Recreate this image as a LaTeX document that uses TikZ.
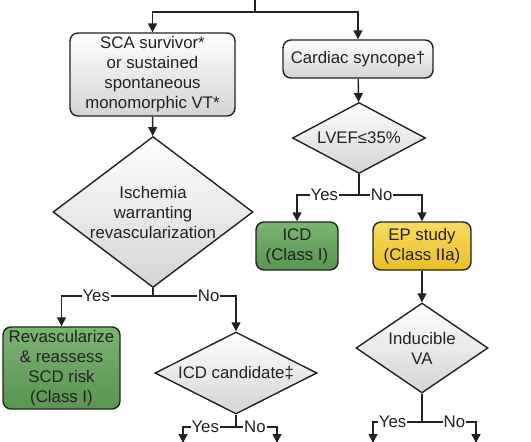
\documentclass[tikz,border=0pt]{standalone}
\usepackage{fontspec}
\setmainfont{Liberation Sans}
\usetikzlibrary{arrows.meta,shapes.geometric}

\definecolor{gris}{RGB}{212,212,212}
\definecolor{vertclair}{RGB}{124,180,114}
\definecolor{vertfonce}{RGB}{90,148,82}
\definecolor{jauneclair}{RGB}{249,220,96}
\definecolor{jaunefonce}{RGB}{234,190,40}
\definecolor{trait}{RGB}{34,34,34}

\tikzset{
	texte/.style={font=\fontsize{16.8}{20}\selectfont, text=trait},
	boite/.style={texte, draw=trait, line width=1.4pt, rounded corners=8pt, align=center, inner sep=0pt, top color=white, bottom color=gris},
	boitevert/.style={boite, top color=vertclair, bottom color=vertfonce},
	boitejaune/.style={boite, top color=jauneclair, bottom color=jaunefonce},
	losange/.style={texte, diamond, draw=trait, line width=1.4pt, align=center, inner sep=-6pt, top color=white, bottom color=gris},
	lien/.style={draw=trait, line width=1.4pt},
	fleche/.style={lien, -{Triangle[length=9pt,width=9pt]}},
	choix/.style={texte, fill=white, inner sep=1pt}
}

\begin{document}
\begin{tikzpicture}[x=1pt,y=-1pt]
	\useasboundingbox [fill=white] (0,0) rectangle (531,442);

	% boites
	\node [boite, minimum width=165pt, minimum height=83pt] (sca) at (152.5,74.5) {SCA survivor*\\or sustained\\spontaneous\\monomorphic VT*};
	\node [boite, minimum width=150pt, minimum height=38pt] (syncope) at (358,59) {Cardiac syncope\textdagger};
	\node [boitevert, minimum width=117pt, minimum height=82pt] (revasc) at (61.5,368) {Revascularize\\\& reassess\\SCD risk\\(Class I)};
	\node [boitevert, minimum width=82pt, minimum height=48pt] (icd) at (297,246) {ICD\\(Class I)};
	\node [boitejaune, minimum width=98pt, minimum height=48pt] (ep) at (422,246) {EP study\\(Class IIa)};

	% losanges
	\node [losange, minimum width=200pt, minimum height=151pt, shape aspect=1.32] (ischemie) at (153,212) {Ischemia\\warranting\\revascularization};
	\node [losange, minimum width=133pt, minimum height=71pt, shape aspect=1.87] (lvef) at (359,138) {LVEF≤35\%};
	\node [losange, minimum width=162pt, minimum height=82pt, shape aspect=1.98] (candidat) at (236,373) {ICD candidate\textdaggerdbl};
	\node [losange, minimum width=132pt, minimum height=90pt, shape aspect=1.47] (inductible) at (422,348) {Inducible\\VA};

	% points de branchement
	\coordinate (haut) at (255,0);
	\coordinate (depart) at (255,12);
	\coordinate (brisch) at (153,296);
	\coordinate (brlvef) at (359,195);
	\coordinate (brcand) at (236,427);
	\coordinate (brind) at (422,422);
	\coordinate (candoui) at (183,443);
	\coordinate (candnon) at (277,443);
	\coordinate (indoui) at (373,443);
	\coordinate (indnon) at (476,443);

	% fleches
	\draw [lien] (haut) -- (depart);
	\draw [fleche] (depart) -| (sca.north);
	\draw [fleche] (depart) -| (syncope.north);
	\draw [fleche] (sca) -- (ischemie);
	\draw [fleche] (syncope) -- (lvef);
	\draw [fleche] (ep) -- (inductible);

	\draw [lien] (ischemie.south) -- (brisch);
	\draw [fleche] (brisch) -| node [choix, pos=0.31] {Yes} (revasc.north);
	\draw [fleche] (brisch) -| node [choix, pos=0.335] {No} (candidat.north);

	\draw [lien] (lvef.south) -- (brlvef);
	\draw [fleche] (brlvef) -| node [choix, pos=0.28] {Yes} (icd.north);
	\draw [fleche] (brlvef) -| node [choix, pos=0.18] {No} (ep.north);

	\draw [lien] (candidat.south) -- (brcand);
	\draw [fleche] (brcand) -| node [choix, pos=0.29] {Yes} (candoui);
	\draw [fleche] (brcand) -| node [choix, pos=0.23] {No} (candnon);

	\draw [lien] (inductible.south) -- (brind);
	\draw [fleche] (brind) -| node [choix, pos=0.3] {Yes} (indoui);
	\draw [fleche] (brind) -| node [choix, pos=0.3] {No} (indnon);
\end{tikzpicture}
\end{document}
